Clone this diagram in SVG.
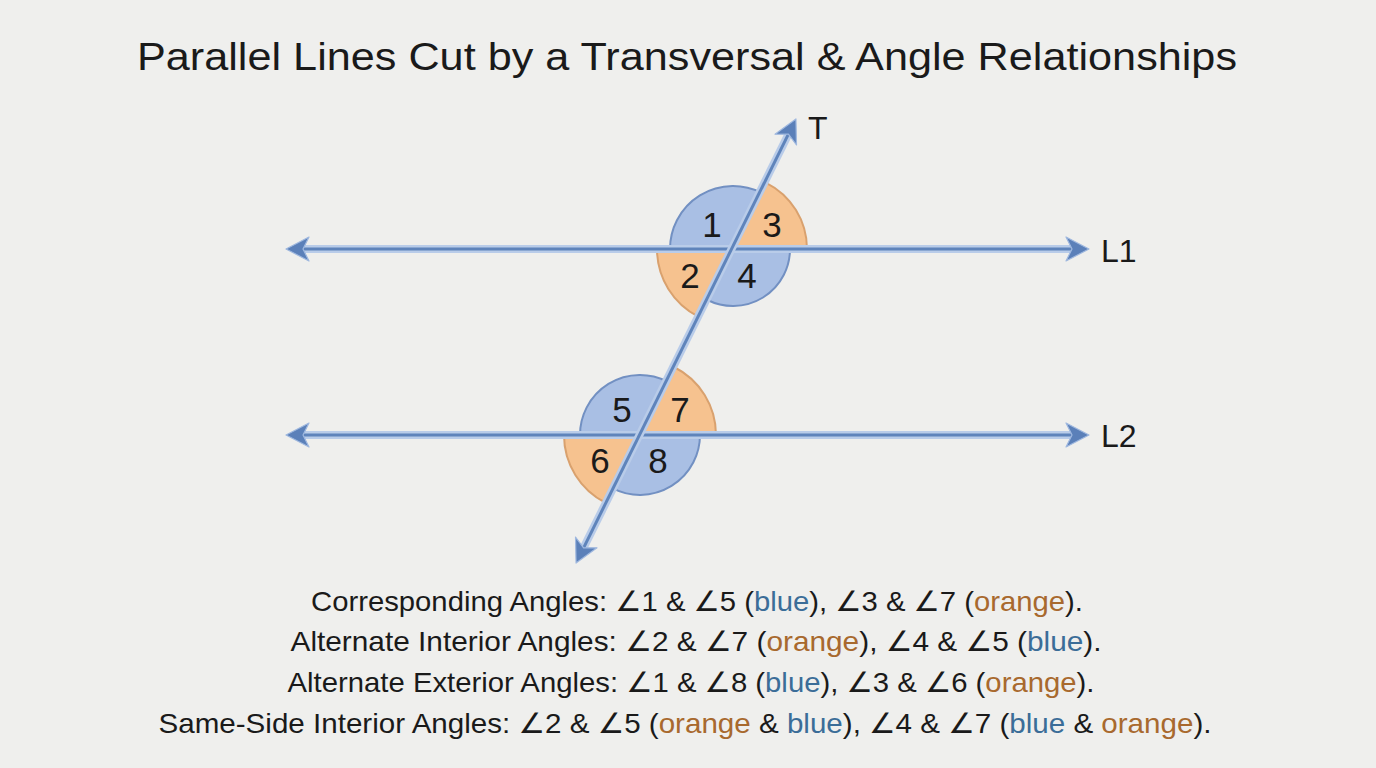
<svg xmlns="http://www.w3.org/2000/svg" width="1376" height="768" viewBox="0 0 1376 768">
<defs>
<style>
.bg{fill:#efefed}
.blue{fill:#a9bfe4;stroke:#7290c2;stroke-width:2}
.orange{fill:#f6c28f;stroke:#d9a16e;stroke-width:2}
.num{font-family:"Liberation Sans","DejaVu Sans",sans-serif;font-size:35px;fill:#1a1a1a;text-anchor:middle}
.lbl{font-family:"Liberation Sans","DejaVu Sans",sans-serif;font-size:32px;fill:#1a1a1a}
.title{font-family:"Liberation Sans","DejaVu Sans",sans-serif;font-size:38px;fill:#1a1a1a}
.body{font-family:"Liberation Sans","DejaVu Sans",sans-serif;font-size:28px;fill:#1a1a1a}
.tb{fill:#3b6d98}
.to{fill:#a8692e}
.halo{stroke:#b9cce9;stroke-width:8;fill:none}
.core{stroke:#5f84bb;stroke-width:3;fill:none}
</style>
<marker id="arr" viewBox="-2 -14 28 28" refX="6" refY="0" markerWidth="28" markerHeight="28" markerUnits="userSpaceOnUse" orient="auto-start-reverse">
<path d="M23,0 L0,-12 L6,0 L0,12 Z" fill="#5b80b9" stroke="#9fb8df" stroke-width="1.2" stroke-linejoin="round"/>
</marker>
</defs>
<rect class="bg" x="0" y="0" width="1376" height="768"/>
<text class="title" x="687" y="70" text-anchor="middle" textLength="1100" lengthAdjust="spacingAndGlyphs">Parallel Lines Cut by a Transversal &amp; Angle Relationships</text>

<g id="angles-L1">
<g id="angle1"><path class="blue" d="M733,249 L670,249 A63,63 0 0 1 761.2,192.7 Z"/><text class="num" x="712" y="237">1</text></g>
<g id="angle3"><path class="orange" d="M733,249 L766.1,182.8 A74,74 0 0 1 807,249 Z"/><text class="num" x="772" y="237">3</text></g>
<g id="angle2"><path class="orange" d="M733,249 L699,317 A76,76 0 0 1 657,249 Z"/><text class="num" x="690" y="288">2</text></g>
<g id="angle4"><path class="blue" d="M733,249 L790,249 A57,57 0 0 1 707.5,300 Z"/><text class="num" x="747" y="288">4</text></g>
</g>

<g id="angles-L2">
<g id="angle5"><path class="blue" d="M640,435 L580,435 A60,60 0 0 1 666.8,381.3 Z"/><text class="num" x="622" y="422">5</text></g>
<g id="angle7"><path class="orange" d="M640,435 L674,367 A76,76 0 0 1 716,435 Z"/><text class="num" x="680" y="422">7</text></g>
<g id="angle6"><path class="orange" d="M640,435 L606,503 A76,76 0 0 1 564,435 Z"/><text class="num" x="600" y="473">6</text></g>
<g id="angle8"><path class="blue" d="M640,435 L700,435 A60,60 0 0 1 613.2,488.6 Z"/><text class="num" x="658" y="473">8</text></g>
</g>

<g id="connectors">
<line class="halo" x1="303" y1="249" x2="1072" y2="249"/>
<line class="core" x1="303" y1="249" x2="1072" y2="249" marker-start="url(#arr)" marker-end="url(#arr)"/>
<line class="halo" x1="303" y1="435" x2="1072" y2="435"/>
<line class="core" x1="303" y1="435" x2="1072" y2="435" marker-start="url(#arr)" marker-end="url(#arr)"/>
<line class="halo" x1="583.6" y1="547.8" x2="788.4" y2="134.2"/>
<line class="core" x1="583.6" y1="547.8" x2="788.4" y2="134.2" marker-start="url(#arr)" marker-end="url(#arr)"/>
</g>

<g id="line-labels">
<text class="lbl" x="808" y="139">T</text>
<text class="lbl" x="1101" y="262">L1</text>
<text class="lbl" x="1101" y="447">L2</text>
</g>

<g id="legend">
<text class="body" x="697" y="611" text-anchor="middle" textLength="772" lengthAdjust="spacingAndGlyphs">Corresponding Angles: ∠1 &amp; ∠5 (<tspan class="tb">blue</tspan>), ∠3 &amp; ∠7 (<tspan class="to">orange</tspan>).</text>
<text class="body" x="696" y="651" text-anchor="middle" textLength="811" lengthAdjust="spacingAndGlyphs">Alternate Interior Angles: ∠2 &amp; ∠7 (<tspan class="to">orange</tspan>), ∠4 &amp; ∠5 (<tspan class="tb">blue</tspan>).</text>
<text class="body" x="691" y="692" text-anchor="middle" textLength="807" lengthAdjust="spacingAndGlyphs">Alternate Exterior Angles: ∠1 &amp; ∠8 (<tspan class="tb">blue</tspan>), ∠3 &amp; ∠6 (<tspan class="to">orange</tspan>).</text>
<text class="body" x="685" y="733" text-anchor="middle" textLength="1053" lengthAdjust="spacingAndGlyphs">Same-Side Interior Angles: ∠2 &amp; ∠5 (<tspan class="to">orange</tspan> &amp; <tspan class="tb">blue</tspan>), ∠4 &amp; ∠7 (<tspan class="tb">blue</tspan> &amp; <tspan class="to">orange</tspan>).</text>
</g>
</svg>
